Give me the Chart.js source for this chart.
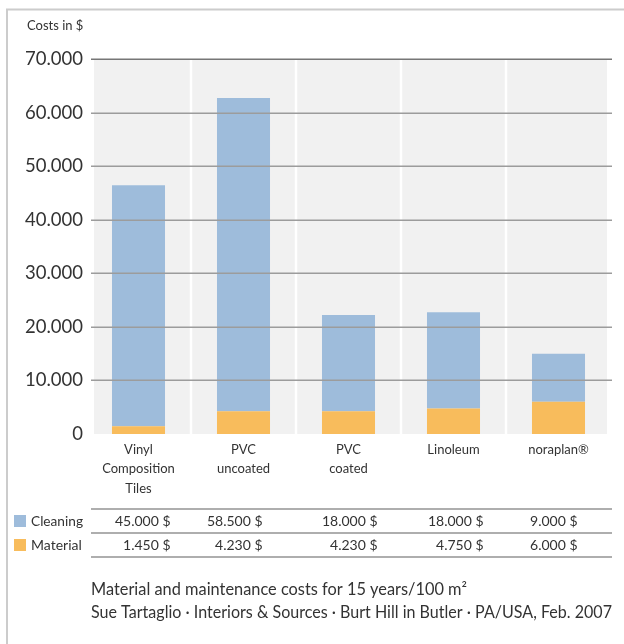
<!DOCTYPE html>
<html><head><meta charset="utf-8">
<script src="https://cdn.jsdelivr.net/npm/chart.js@4"></script>
<style>html,body{margin:0;padding:0;background:#fff;overflow:hidden}canvas{display:block}</style>
</head><body>
<canvas id="c" width="624" height="644"></canvas>
<script>
// ---- data ----
const categories = [["Vinyl", "Composition", "Tiles"], ["PVC", "uncoated"], ["PVC", "coated"], ["Linoleum"], ["noraplan®"]];
const cleaningValues = [45000, 58500, 18000, 18000, 9000];
const materialValues = [1450, 4230, 4230, 4750, 6000];
const yMin = 0, yMax = 70000, yStep = 10000;
const seriesNames = ["Cleaning", "Material"];
const axisTitle = "Costs in $";
const footnotes = ["Material and maintenance costs for 15 years/100 m²",
  "Sue Tartaglio · Interiors & Sources · Burt Hill in Butler · PA/USA, Feb. 2007"];

// ---- style ----
const FONT = 'Lato, "Open Sans", sans-serif';
const TXT = '#333333';
const BLUE = '#9ebcdb', ORANGE = '#f8bc5c';
Chart.defaults.font.family = FONT;
function fmt(v){ return String(v).replace(/\B(?=(\d{3})+(?!\d))/g, '.'); }

const framePlugin = {
  id: 'frame',
  beforeDraw(chart){
    const ctx = chart.ctx;
    ctx.save();
    ctx.fillStyle = '#fff';
    ctx.fillRect(0, 0, chart.width, chart.height);
    ctx.strokeStyle = '#cccccc';
    ctx.lineWidth = 2;
    ctx.beginPath();
    ctx.moveTo(7, 644); ctx.lineTo(7, 9.5); ctx.lineTo(624, 9.5);
    ctx.stroke();
    ctx.fillStyle = TXT;
    ctx.font = '13px ' + FONT;
    ctx.textBaseline = 'middle';
    ctx.fillText(axisTitle, 27, 26, 57);
    ctx.restore();
  }
};

const columnsPlugin = {
  id: 'columns',
  beforeDatasetsDraw(chart){
    const {ctx, chartArea: a, scales: {x}} = chart;
    ctx.save();
    ctx.fillStyle = '#f1f1f1';
    ctx.fillRect(a.left + 8, a.top, a.right - 4 - (a.left + 8), a.bottom - a.top);
    ctx.strokeStyle = '#ffffff';
    ctx.lineWidth = 2.5;
    for (let i = 1; i < categories.length; i++) {
      const px = (x.getPixelForValue(i - 1) + x.getPixelForValue(i)) / 2;
      ctx.beginPath(); ctx.moveTo(px, a.top); ctx.lineTo(px, a.bottom); ctx.stroke();
    }
    ctx.restore();
  },
  afterDatasetsDraw(chart){
    const {ctx, chartArea: a, scales: {y}} = chart;
    ctx.save();
    ctx.lineWidth = 1.5;
    y.ticks.forEach(t => {
      if (t.value <= yMin) return;
      const py = Math.round(y.getPixelForValue(t.value)) + 0.25;
      ctx.strokeStyle = t.value === yMax ? '#767676' : '#9c9c9c';
      ctx.beginPath(); ctx.moveTo(a.left + 5, py); ctx.lineTo(a.right + 1, py); ctx.stroke();
    });
    ctx.restore();
  }
};

const tablePlugin = {
  id: 'table',
  afterDraw(chart){
    const {ctx, scales: {x}} = chart;
    const rowsY = [521, 545];
    const lines = [509, 533, 557];
    const rightOffsets = [32, 19, 29, 30, 19];
    ctx.save();
    ctx.strokeStyle = '#5e5e5e';
    ctx.lineWidth = 1.2;
    lines.forEach(ly => { ctx.beginPath(); ctx.moveTo(91, ly); ctx.lineTo(612, ly); ctx.stroke(); });
    const rows = [
      {name: seriesNames[0], color: BLUE, values: cleaningValues},
      {name: seriesNames[1], color: ORANGE, values: materialValues}
    ];
    ctx.font = '14px ' + FONT;
    ctx.textBaseline = 'middle';
    rows.forEach((r, ri) => {
      const cy = rowsY[ri];
      ctx.fillStyle = r.color;
      ctx.fillRect(14, cy - 6, 12, 12);
      ctx.fillStyle = TXT;
      ctx.textAlign = 'left';
      ctx.fillText(r.name, 31, cy, 52);
      ctx.textAlign = 'right';
      r.values.forEach((v, i) => {
        ctx.fillText(fmt(v) + ' $', x.getPixelForValue(i) + rightOffsets[i], cy);
      });
    });
    ctx.textAlign = 'left';
    ctx.font = '16.5px ' + FONT;
    ctx.fillText(footnotes[0], 91, 590, 376);
    ctx.fillText(footnotes[1], 91, 613, 521);
    ctx.restore();
  }
};

new Chart(document.getElementById('c'), {
  type: 'bar',
  data: {
    labels: categories,
    datasets: [
      {label: seriesNames[1], data: materialValues, backgroundColor: ORANGE, stack: 's'},
      {label: seriesNames[0], data: cleaningValues, backgroundColor: BLUE, stack: 's'}
    ]
  },
  options: {
    responsive: false,
    animation: false,
    devicePixelRatio: 1,
    datasets: {bar: {barPercentage: 0.505, categoryPercentage: 1, borderWidth: 0}},
    layout: {padding: {left: 0, right: 13, top: 59, bottom: 140}},
    plugins: {legend: {display: false}, tooltip: {enabled: false}},
    scales: {
      x: {
        stacked: true,
        grid: {display: false, drawTicks: false},
        border: {display: false},
        ticks: {color: TXT, font: {size: 13, lineHeight: 1.5}, padding: 6, maxRotation: 0, autoSkip: false},
        afterFit: s => { s.height = 70; }
      },
      y: {
        stacked: true,
        min: yMin, max: yMax,
        grid: {display: false, drawTicks: false},
        border: {display: false},
        ticks: {stepSize: yStep, color: TXT, font: {size: 18.5}, padding: 3, callback: v => fmt(v)},
        afterFit: s => { s.width = 86; }
      }
    }
  },
  plugins: [framePlugin, columnsPlugin, tablePlugin]
});
</script>
</body></html>
